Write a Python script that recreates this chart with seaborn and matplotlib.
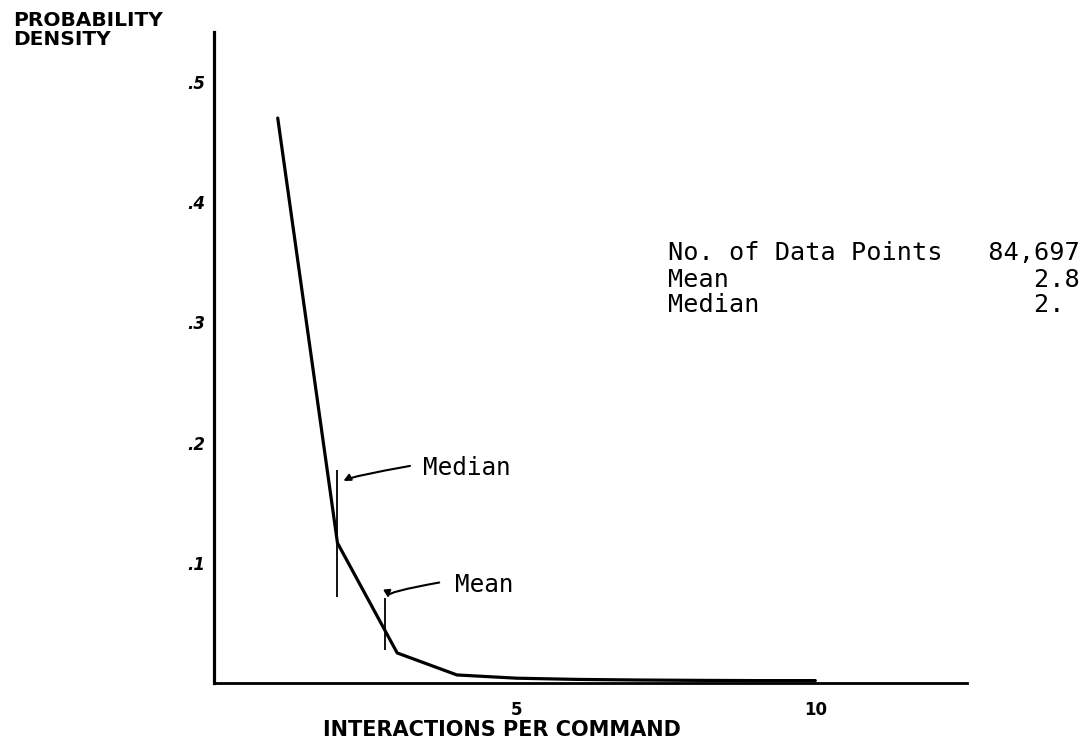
import matplotlib
matplotlib.use("Agg")
import matplotlib.pyplot as plt
import seaborn as sns

# datos
interacciones = [1, 2, 3, 4, 5, 6, 7, 8, 9, 10]
densidad = [0.47, 0.1165, 0.025, 0.0067, 0.004, 0.003, 0.0025, 0.0022, 0.002, 0.002]

y_ticks = [0.1, 0.2, 0.3, 0.4, 0.5]
y_tick_labels = [".1", ".2", ".3", ".4", ".5"]
x_ticks = [1, 2, 3, 4, 5, 6, 7, 8, 9, 10]
x_tick_labels = ["", "", "", "", "5", "", "", "", "", "10"]

mediana = 2
media = 2.8
mediana_marca = [0.0715, 0.177]
media_marca = [0.0275, 0.0707]

estadisticas = [("No. of Data Points", "84,697"), ("Mean", "2.8"), ("Median", "2. ")]

sns.set_style("white")
plt.rcParams["font.family"] = ["DejaVu Sans"]
plt.rcParams["text.color"] = "black"
plt.rcParams["xtick.color"] = "black"
plt.rcParams["ytick.color"] = "black"

W, H = 1084, 754
fig = plt.figure(figsize=(W / 100, H / 100), dpi=100)
ax = fig.add_axes([214 / W, 1 - 683 / H, (967 - 214) / W, (683 - 32) / H])

sns.lineplot(x=interacciones, y=densidad, color="black", linewidth=2.3, ax=ax)

# marcas de mediana y media
ax.vlines(mediana, mediana_marca[0], mediana_marca[1], color="black", linewidth=1.3)
ax.vlines(media, media_marca[0], media_marca[1], color="black", linewidth=1.3)

mono = "DejaVu Sans Mono"
ax.text(3.43, 0.173, "Median", family=mono, fontsize=17.5, va="baseline", ha="left")
ax.annotate("", xy=(2.08, 0.166), xytext=(3.26, 0.181),
            arrowprops=dict(arrowstyle="-|>", color="black", lw=1.5,
                            connectionstyle="angle3,angleA=10,angleB=-30"))
ax.text(3.97, 0.0757, "Mean", family=mono, fontsize=17.5, va="baseline", ha="left")
ax.annotate("", xy=(2.88, 0.069), xytext=(3.75, 0.084),
            arrowprops=dict(arrowstyle="-|>", color="black", lw=1.5,
                            connectionstyle="angle3,angleA=10,angleB=-30"))

ax.set_xlim(-0.067, 12.54)
ax.set_ylim(0, 0.5416)

ax.set_xticks(x_ticks)
ax.set_xticklabels(x_tick_labels, fontweight="bold", fontsize=12)
ax.set_yticks(y_ticks)
ax.set_yticklabels(y_tick_labels, fontweight="bold", fontstyle="italic", fontsize=12)
ax.tick_params(axis="y", direction="inout", length=11, width=1.6, pad=1)
ax.tick_params(axis="x", direction="out", length=7, width=1.6, pad=6)

sns.despine(ax=ax)
ax.spines["left"].set_linewidth(2.3)
ax.spines["bottom"].set_linewidth(2.0)
ax.spines["left"].set_color("black")
ax.spines["bottom"].set_color("black")

fig.text(13 / W, 1 - 11 / H, "PROBABILITY\nDENSITY", ha="left", va="top",
         fontweight="bold", fontsize=14.5, linespacing=1.0)
fig.text(502 / W, 1 - 730 / H, "INTERACTIONS PER COMMAND", ha="center", va="center",
         fontweight="bold", fontsize=15)

# bloque de estadisticas
bases = [260, 287, 312]
for (etiqueta, valor), yb in zip(estadisticas, bases):
    fig.text(668 / W, 1 - yb / H, etiqueta.ljust(21) + valor.rjust(6),
             family=mono, fontsize=18.2, ha="left", va="baseline")

fig.savefig("out.png", dpi=100, facecolor="white")
